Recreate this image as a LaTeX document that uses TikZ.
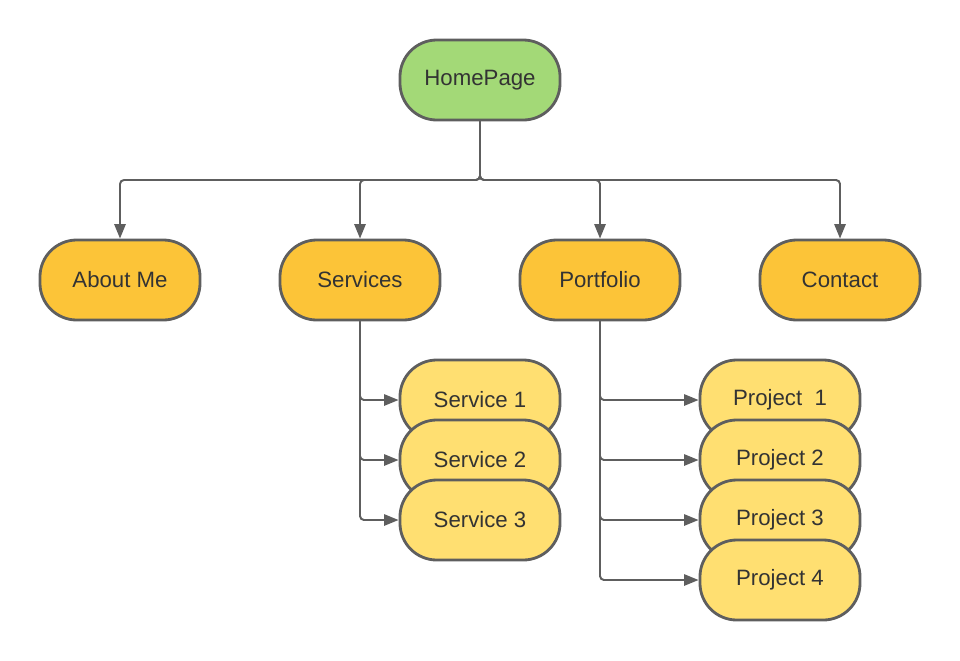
\documentclass[tikz,border=0pt]{standalone}
\usepackage{fontspec}
\setmainfont{Liberation Sans}
\usetikzlibrary{arrows.meta}
\definecolor{vert}{HTML}{A3D977}
\definecolor{orange}{HTML}{FCC438}
\definecolor{jaune}{HTML}{FFDF71}
\definecolor{bord}{HTML}{5E5E5E}
\definecolor{texte}{HTML}{333333}
\tikzset{
  boite/.style={draw=bord, line width=2pt, rounded corners=0.92cm,
    minimum width=4cm, minimum height=2cm, text=texte,
    font=\fontsize{15.8}{18}\selectfont},
  lien/.style={draw=bord, line width=1.4pt, rounded corners=0.1cm,
    -{Triangle[length=0.36cm,width=0.28cm]}}
}
\begin{document}
\begin{tikzpicture}[x=0.025cm,y=-0.025cm]
    \useasboundingbox (0,0) rectangle (960,660);

    % Dessine la page d'accueil
    \node[boite,fill=vert] (home) at (480,80) {HomePage};

    % Dessine les rubriques
    \node[boite,fill=orange] (about) at (120,280) {About Me};
    \node[boite,fill=orange] (services) at (360,280) {Services};
    \node[boite,fill=orange] (portfolio) at (600,280) {Portfolio};
    \node[boite,fill=orange] (contact) at (840,280) {Contact};

    % Dessine les services
    \node[boite,fill=jaune] (s1) at (480,400) {Service 1};
    \node[boite,fill=jaune] (s2) at (480,460) {Service 2};
    \node[boite,fill=jaune] (s3) at (480,520) {Service 3};

    % Dessine les projets
    \node[boite,fill=jaune] (p1) at (780,400) {Project\ \ 1};
    \node[boite,fill=jaune] (p2) at (780,460) {Project 2};
    \node[boite,fill=jaune] (p3) at (780,520) {Project 3};
    \node[boite,fill=jaune] (p4) at (780,580) {Project 4};

    % Dessine les flèches
    \coordinate (bus) at (480,180);
    \foreach \cible in {about,services,portfolio,contact}
        \draw[lien] (home.south) -- (bus) -| (\cible.north);
    \foreach \cible in {s1,s2,s3}
        \draw[lien] (services.south) |- (\cible.west);
    \foreach \cible in {p1,p2,p3,p4}
        \draw[lien] (portfolio.south) |- (\cible.west);

\end{tikzpicture}
\end{document}
